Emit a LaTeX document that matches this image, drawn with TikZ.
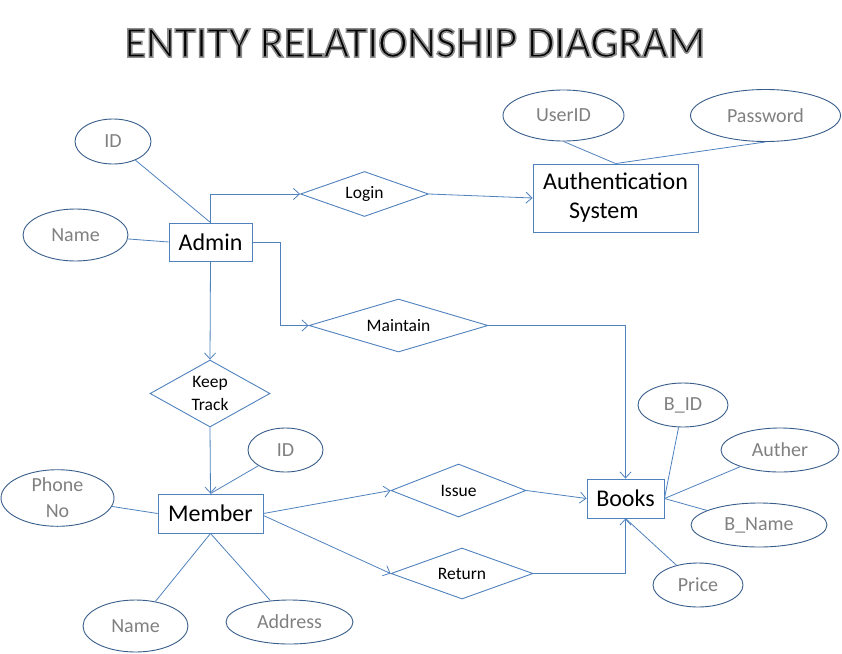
\documentclass[tikz,border=0pt]{standalone}
\usepackage{fontspec}
\setmainfont{Carlito}
\usetikzlibrary{shapes.geometric,arrows.meta}
\definecolor{lineblue}{RGB}{79,129,189}
\definecolor{ellblue}{RGB}{56,93,138}
\definecolor{attrgray}{RGB}{128,128,128}
\newcommand{\outlinedtext}[1]{\special{pdf:literal direct 2 Tr 0.55 0.55 0.55 RG 1.6 w}#1\special{pdf:literal direct 0 Tr 0 0 0 RG}}
\begin{document}
\begin{tikzpicture}[x=1pt,y=-1pt,
 attr/.style={ellipse, draw=ellblue, line width=0.9pt, inner sep=0pt, text=attrgray, font=\fontsize{20}{26}\selectfont, align=center},
 entity/.style={rectangle, draw=lineblue, line width=0.9pt, inner sep=0pt, font=\fontsize{24}{29}\selectfont},
 rel/.style={diamond, draw=lineblue, line width=0.9pt, inner sep=0pt, font=\fontsize{17.5}{23}\selectfont, align=center},
 conn/.style={draw=lineblue, line width=0.8pt},
 arr/.style={conn, -{Straight Barb[length=6pt,width=11pt]}},
 titlefont/.style={font=\fontsize{44}{50}\selectfont},
]
\useasboundingbox (0,0) rectangle (842,653);
\node[titlefont, text=black] (title) at (415,43) {\outlinedtext{ENTITY RELATIONSHIP DIAGRAM}};

% entities
\node[entity, minimum width=83pt, minimum height=38pt] (admin) at (210.5,242) {Admin};
\node[entity, minimum width=165pt, minimum height=68pt, align=left] (auth) at (615.5,198) {Authentication\\\hspace*{26pt}System};
\node[entity, minimum width=105pt, minimum height=39pt] (member) at (210.5,513.5) {Member};
\node[entity, minimum width=77pt, minimum height=39pt] (books) at (625.5,498.5) {Books};

% relationships
\node[rel, minimum width=128pt, minimum height=45pt, aspect=2.84] (login) at (364.5,194) {Login};
\node[rel, minimum width=179pt, minimum height=53pt, aspect=3.38] (maintain) at (398.5,325.5) {Maintain};
\node[rel, minimum width=120pt, minimum height=67pt, aspect=1.79] (keep) at (210,393.5) {Keep\\Track};
\node[rel, minimum width=135pt, minimum height=53pt, aspect=2.55] (issue) at (458.5,490.5) {Issue};
\node[rel, minimum width=142pt, minimum height=51pt, aspect=2.78] (return) at (462,573.5) {Return};

% attributes
\node[attr, minimum width=76pt, minimum height=45pt] (aid) at (113,141.5) {ID};
\node[attr, minimum width=105pt, minimum height=52pt] (aname) at (75.5,235) {Name};
\node[attr, minimum width=121pt, minimum height=51pt] (userid) at (563.5,115.5) {UserID};
\node[attr, minimum width=150pt, minimum height=52pt] (password) at (765.5,115.5) {Password};
\node[attr, minimum width=75pt, minimum height=44pt] (mid) at (285.5,450) {ID};
\node[attr, minimum width=113pt, minimum height=52pt] (phone) at (57.5,498) {Phone\\No};
\node[attr, minimum width=105pt, minimum height=52pt] (mname) at (135.5,626) {Name};
\node[attr, minimum width=127pt, minimum height=44pt] (address) at (289.5,622) {Address};
\node[attr, minimum width=90pt, minimum height=44pt] (bid) at (683,405) {B\_ID};
\node[attr, minimum width=118pt, minimum height=44pt] (auther) at (780,450) {Auther};
\node[attr, minimum width=136pt, minimum height=44pt] (bname) at (759,525) {B\_Name};
\node[attr, minimum width=90pt, minimum height=44pt] (price) at (698,585) {Price};

% attribute lines
\draw[conn] (aid) -- (admin.north);
\draw[conn] (aname) -- (admin.west);
\draw[conn] (userid.south) -- (auth.north);
\draw[conn] (password.south) -- (auth.north);
\draw[conn] (mid) -- (member.north);
\draw[conn] (phone) -- (member.west);
\draw[conn] (mname) -- (member.south);
\draw[conn] (address) -- (member.south);
\draw[conn] (bid) -- (books.east);
\draw[conn] (auther) -- (books.east);
\draw[conn] (bname) -- (books.east);
\draw[conn] (price) -- (books.south);

% relationship arrows
\draw[arr] (admin.north) |- (login.west);
\draw[arr] (login.east) -- (auth.west);
\draw[arr] (admin.east) -- ++(28,0) |- (maintain.west);
\draw[arr] (maintain.east) -| (books.north);
\draw[arr] (admin.south) -- (keep.north);
\draw[arr] (keep.south) -- (member.north);
\draw[arr] (member.east) -- (issue.west);
\draw[arr] ([yshift=-2pt]member.east) -- (return.west);
\draw[arr] (issue.east) -- (books.west);
\draw[arr] (return.east) -| (books.south);
\end{tikzpicture}
\end{document}
